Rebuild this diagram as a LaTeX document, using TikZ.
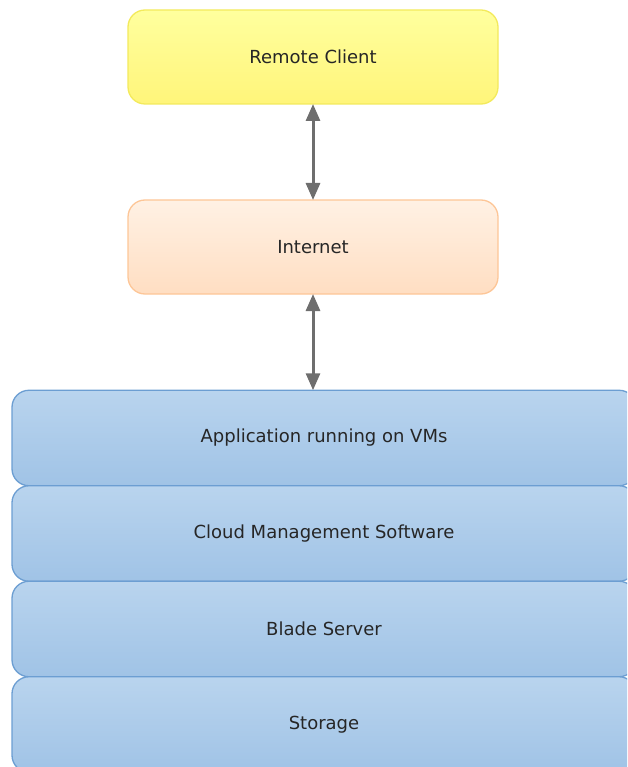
\documentclass[tikz,border=0pt]{standalone}
\usepackage{fontspec}
\setmainfont{DejaVu Sans}
\usetikzlibrary{positioning,arrows.meta}
\definecolor{clienttop}{HTML}{FFFF9E}
\definecolor{clientbot}{HTML}{FFF57A}
\definecolor{clientline}{HTML}{F3EA5C}
\definecolor{nettop}{HTML}{FFF1E4}
\definecolor{netbot}{HTML}{FFDEC2}
\definecolor{netline}{HTML}{FDC697}
\definecolor{layertop}{HTML}{B9D4EE}
\definecolor{layerbot}{HTML}{A0C3E6}
\definecolor{layerline}{HTML}{6C9ED2}
\definecolor{linkgray}{HTML}{6E6E6E}
\tikzset{
  box/.style={rounded corners=17pt, minimum width=370pt, minimum height=94pt,
    inner sep=0pt, outer sep=0pt, line width=1.3pt, text=black!85,
    font=\fontsize{18}{21}\selectfont},
  layer/.style={box, minimum width=624pt, minimum height=95.5pt,
    top color=layertop, bottom color=layerbot, draw=layerline},
  link/.style={linkgray, line width=3pt,
    {Triangle[width=14pt,length=17pt]}-{Triangle[width=14pt,length=17pt]}}
}
\begin{document}
\begin{tikzpicture}[x=1pt,y=-1pt]
  \clip (0,0) rectangle (627,767);
  \node[box, top color=clienttop, bottom color=clientbot, draw=clientline]
    (client) at (313,57) {Remote Client};
  \node[box, top color=nettop, bottom color=netbot, draw=netline]
    (net) at (313,247) {Internet};
  % stack of layers
  \node[layer] (app) at (324,438) {Application running on VMs};
  \node[layer, below=0pt of app] (mgmt) {Cloud Management Software};
  \node[layer, below=0pt of mgmt] (blade) {Blade Server};
  \node[layer, below=0pt of blade] (store) {Storage};
  \draw[link] (client.south) -- (net.north);
  \draw[link] (net.south) -- (net.south |- app.north);
\end{tikzpicture}
\end{document}
